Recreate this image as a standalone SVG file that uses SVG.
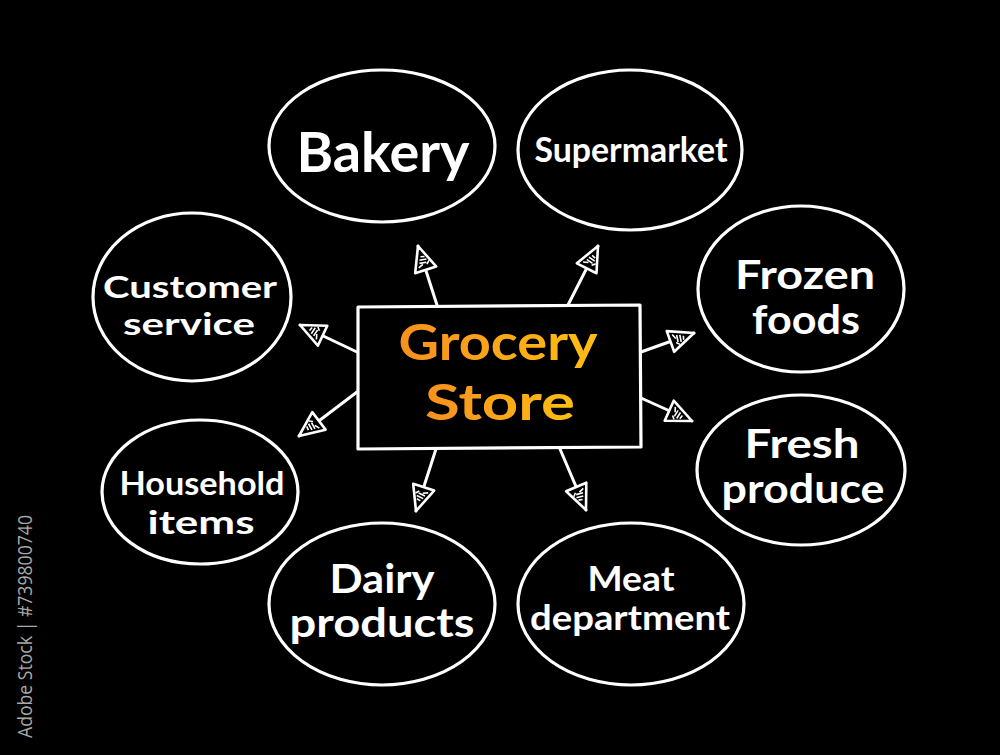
<svg xmlns="http://www.w3.org/2000/svg" width="1000" height="755" viewBox="0 0 1000 755">
<defs>
<style>
.node{fill:none;stroke:#fff;stroke-width:3.2;stroke-linecap:round;stroke-linejoin:round}
.lbl{fill:#fff;font-family:Lato,"Liberation Sans",sans-serif;font-weight:bold;text-anchor:middle}
.conn{stroke:#fff;stroke-width:3;fill:none;stroke-linecap:round}
.title{font-family:Lato,"Liberation Sans",sans-serif;font-weight:bold;text-anchor:middle;fill:url(#og)}
</style>
<linearGradient id="og" x1="0" y1="0" x2="1" y2="0">
<stop offset="0" stop-color="#f7901e"/>
<stop offset="1" stop-color="#ffbe12"/>
</linearGradient>
<marker id="ah" markerUnits="userSpaceOnUse" viewBox="0 0 30 26" markerWidth="30" markerHeight="26" refX="28" refY="13" orient="auto">
<path d="M3,2 L28,13 L3,24 Z" fill="#000" stroke="#fff" stroke-width="2.6" stroke-linejoin="round"/>
<path d="M7,7 L9,12 M11,9 L10,16 M14,10 L13,17 M8,16 L11,19 M17,12 L16,16" stroke="#fff" stroke-width="1.6" fill="none"/>
</marker>
</defs>
<rect width="1000" height="755" fill="#000"/>
<text x="32" y="738" transform="rotate(-90 32 738)" font-family="'Open Sans','Liberation Sans',sans-serif" font-size="20" fill="#a8a8a8" textLength="223" lengthAdjust="spacingAndGlyphs">Adobe Stock | #739800740</text>
<g id="connectors">
<path class="conn" d="M437,305 L418,246" marker-end="url(#ah)"/>
<path class="conn" d="M568,305 L598,246" marker-end="url(#ah)"/>
<path class="conn" d="M641,352 L694,333" marker-end="url(#ah)"/>
<path class="conn" d="M641,398 L692,421" marker-end="url(#ah)"/>
<path class="conn" d="M560,449 L586,510" marker-end="url(#ah)"/>
<path class="conn" d="M436,449 L416,511" marker-end="url(#ah)"/>
<path class="conn" d="M357,392 L299,436" marker-end="url(#ah)"/>
<path class="conn" d="M357,352 L300,325" marker-end="url(#ah)"/>
</g>
<g id="center">
<path class="node" d="M358,307 L640,305 L641,447 L358,449 Z"/>
<text class="title" x="498" y="360" font-size="50" textLength="199" lengthAdjust="spacingAndGlyphs">Grocery</text>
<text class="title" x="500" y="420" font-size="50" textLength="150" lengthAdjust="spacingAndGlyphs">Store</text>
</g>
<g id="bakery">
<ellipse class="node" cx="382" cy="146" rx="113" ry="76"/>
<text class="lbl" x="383" y="172" font-size="56" textLength="173" lengthAdjust="spacingAndGlyphs">Bakery</text>
</g>
<g id="supermarket">
<ellipse class="node" cx="630" cy="150" rx="112" ry="80"/>
<text class="lbl" x="631" y="162" font-size="34" textLength="193" lengthAdjust="spacingAndGlyphs">Supermarket</text>
</g>
<g id="frozen">
<ellipse class="node" cx="801" cy="289" rx="103" ry="83"/>
<text class="lbl" x="805" y="289" font-size="40" textLength="140" lengthAdjust="spacingAndGlyphs">Frozen</text>
<text class="lbl" x="806" y="334" font-size="40" textLength="108" lengthAdjust="spacingAndGlyphs">foods</text>
</g>
<g id="fresh">
<ellipse class="node" cx="801" cy="470" rx="104" ry="75"/>
<text class="lbl" x="802" y="458" font-size="40" textLength="115" lengthAdjust="spacingAndGlyphs">Fresh</text>
<text class="lbl" x="803" y="503" font-size="40" textLength="163" lengthAdjust="spacingAndGlyphs">produce</text>
</g>
<g id="meat">
<ellipse class="node" cx="631" cy="604" rx="113" ry="81"/>
<text class="lbl" x="631" y="591" font-size="34" textLength="87" lengthAdjust="spacingAndGlyphs">Meat</text>
<text class="lbl" x="630" y="630" font-size="34" textLength="200" lengthAdjust="spacingAndGlyphs">department</text>
</g>
<g id="dairy">
<ellipse class="node" cx="382" cy="604" rx="113" ry="81"/>
<text class="lbl" x="382" y="593" font-size="40" textLength="105" lengthAdjust="spacingAndGlyphs">Dairy</text>
<text class="lbl" x="382" y="637" font-size="40" textLength="185" lengthAdjust="spacingAndGlyphs">products</text>
</g>
<g id="household">
<ellipse class="node" cx="200" cy="492" rx="98" ry="72"/>
<text class="lbl" x="202" y="495" font-size="32" textLength="165" lengthAdjust="spacingAndGlyphs">Household</text>
<text class="lbl" x="201" y="534" font-size="32" textLength="107" lengthAdjust="spacingAndGlyphs">items</text>
</g>
<g id="customer">
<ellipse class="node" cx="192" cy="297" rx="99" ry="84"/>
<text class="lbl" x="190" y="298" font-size="31" textLength="174" lengthAdjust="spacingAndGlyphs">Customer</text>
<text class="lbl" x="189" y="335" font-size="31" textLength="132" lengthAdjust="spacingAndGlyphs">service</text>
</g>
</svg>
